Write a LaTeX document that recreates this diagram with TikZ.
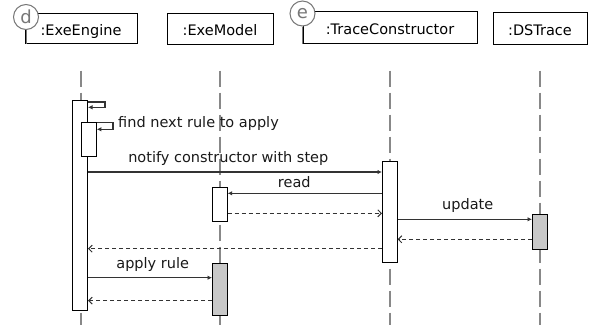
\documentclass[tikz,border=0pt]{standalone}
\usepackage{fontspec}
\setmainfont{DejaVu Sans}
\usetikzlibrary{arrows.meta}
\definecolor{lifegray}{HTML}{888888}
\definecolor{circgray}{HTML}{777777}
\definecolor{linegray}{HTML}{333333}
\definecolor{barfill}{HTML}{C8C8C8}
\tikzset{
  obj/.style={draw=black, line width=1pt, inner sep=0pt, fill=white, font=\fontsize{14.5}{16}\selectfont, text height=16pt, text depth=1.8pt},
  tag/.style={circle, draw=circgray, line width=1pt, fill=white, minimum size=25pt, inner sep=0pt, text=circgray, font=\fontsize{18}{18}\selectfont},
  life/.style={draw=lifegray, line width=1.8pt, dash pattern=on 16pt off 6pt},
  bar/.style={draw=black, line width=1pt, fill=white, inner sep=0pt, minimum width=14.6pt},
  gbar/.style={bar, fill=barfill},
  msg/.style={draw=linegray, line width=1.1pt, -{Latex[length=4.5pt,width=4.5pt]}},
  ret/.style={draw=linegray, line width=1pt, dash pattern=on 4pt off 3pt, -{Straight Barb[length=3.5pt,width=7pt]}},
  lbl/.style={font=\fontsize{14.5}{16}\selectfont, text=black!90, inner sep=0pt}
}
\begin{document}
\begin{tikzpicture}[x=1pt,y=-1pt]
\useasboundingbox (0,0) rectangle (592,327);
% objects
\node[obj, minimum width=112pt, minimum height=30pt] (ee) at (81,28.3) {:ExeEngine};
\node[obj, minimum width=106pt, minimum height=31pt] (em) at (220,28.5) {:ExeModel};
\node[obj, minimum width=174pt, minimum height=31.6pt] (tc) at (390,27.5) {:TraceConstructor};
\node[obj, minimum width=94pt, minimum height=31.6pt] (ds) at (540,28.5) {:DSTrace};
\node[tag] (d) at (26,17) {d};
\node[tag] (e) at (302.5,13.5) {e};
\draw[circgray, line width=1pt] (d.south) -- (d.south |- ee.south);
\draw[circgray, line width=1pt] (e.south) -- (e.south |- tc.south);
% lifelines
\draw[life] (81,70.7) coordinate (l1t) -- (81,325) coordinate (l1b);
\draw[life] (220,70.7) coordinate (l2t) -- (220,325) coordinate (l2b);
\draw[life] (390,70.7) coordinate (l3t) -- (390,325) coordinate (l3b);
\draw[life] (540,70.7) coordinate (l4t) -- (540,325) coordinate (l4b);
% activation bars
\node[bar, minimum height=210pt] (b1) at (80.2,205) {};
\node[bar, minimum height=34pt] (b2) at (89,139.2) {};
\node[bar, minimum height=34.4pt] (b3) at (219.8,204.5) {};
\node[bar, minimum height=100.6pt] (b4) at (389.8,212) {};
\node[gbar, minimum height=35pt] (b5) at (539.8,231.8) {};
\node[gbar, minimum height=52.4pt] (b6) at (219.8,289.5) {};
% self messages
\coordinate (s1) at (105,102);
\draw[msg] (b1.east |- s1) -- (s1) -- (105,107.3) -- (b1.east |- 0,107.3);
\coordinate (s2) at (113,122.7);
\draw[msg] (b2.east |- s2) -- (s2) -- (113,129.3) -- (b2.east |- 0,129.3);
\node[lbl, anchor=west] (t1) at (118,123.5) {find next rule to apply};
% messages
\draw[msg] (b1.east |- 0,172) -- (b4.west |- 0,172);
\node[lbl] (t2) at (228.3,158) {notify constructor with step};
\draw[msg] (b4.west |- 0,193.3) -- (b3.east |- 0,193.3);
\node[lbl] (t3) at (294.3,182.3) {read};
\draw[ret] (b3.east |- 0,213.3) -- (b4.west |- 0,213.3);
\draw[msg] (b4.east |- 0,219.3) -- (b5.west |- 0,219.3);
\node[lbl] (t4) at (467.7,205) {update};
\draw[ret] (b5.west |- 0,239.3) -- (b4.east |- 0,239.3);
\draw[ret] (b4.west |- 0,248.7) -- (b1.east |- 0,248.7);
\draw[msg] (b1.east |- 0,277.7) -- (b6.west |- 0,277.7);
\node[lbl] (t5) at (152.7,264.3) {apply rule};
\draw[ret] (b6.west |- 0,300.6) -- (b1.east |- 0,300.6);
\end{tikzpicture}
\end{document}
